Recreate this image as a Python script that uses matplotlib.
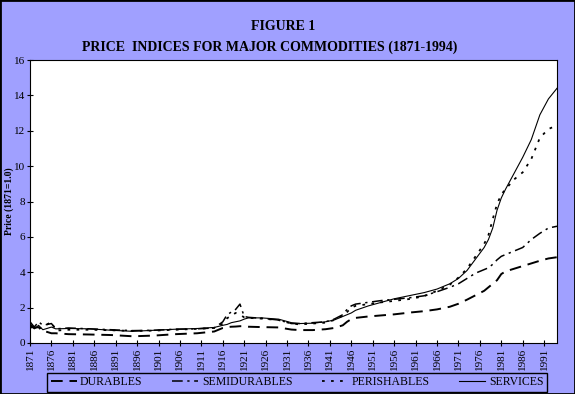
import matplotlib
matplotlib.use("Agg")
import matplotlib.pyplot as plt
from matplotlib.patches import Rectangle

plt.rcParams['font.family'] = ['Liberation Serif', 'DejaVu Serif']

# price indices, 1871 = 1.0
years = [1871, 1872, 1873, 1874, 1876, 1877, 1880, 1885, 1890, 1895, 1900, 1905,
         1910, 1914, 1916, 1917, 1918, 1919, 1920, 1921, 1922, 1925, 1929, 1932,
         1934, 1937, 1940, 1942, 1944, 1945, 1946, 1947, 1950, 1953, 1956, 1960,
         1963, 1966, 1969, 1971, 1973, 1975, 1977, 1978, 1979, 1980, 1981, 1982,
         1984, 1986, 1988, 1990, 1992, 1994]
durables = [1.0, 0.85, 0.9, 0.7, 0.55, 0.55, 0.5, 0.48, 0.45, 0.38, 0.42, 0.5,
            0.55, 0.65, 0.85, 0.9, 0.92, 0.93, 0.95, 0.95, 0.92, 0.9, 0.88, 0.76,
            0.73, 0.73, 0.78, 0.85, 1.0, 1.2, 1.35, 1.42, 1.5, 1.56, 1.62, 1.73,
            1.8, 1.9, 2.05, 2.22, 2.45, 2.7, 2.95, 3.15, 3.35, 3.55, 3.9, 4.05,
            4.2, 4.35, 4.5, 4.65, 4.78, 4.85]
semidurables = [1.2, 0.9, 1.2, 1.0, 1.1, 0.8, 0.85, 0.8, 0.75, 0.7, 0.72, 0.78,
                0.8, 0.85, 1.2, 1.6, 1.75, 1.9, 2.2, 1.5, 1.45, 1.4, 1.3, 1.1,
                1.1, 1.15, 1.2, 1.35, 1.6, 1.9, 2.1, 2.2, 2.3, 2.4, 2.47, 2.57,
                2.67, 2.9, 3.15, 3.35, 3.65, 3.95, 4.15, 4.25, 4.45, 4.7, 4.9, 5.0,
                5.2, 5.4, 5.85, 6.2, 6.5, 6.6]
perishables = [0.9, 0.85, 0.8, 0.9, 1.2, 0.7, 0.75, 0.75, 0.72, 0.68, 0.7, 0.75,
               0.8, 0.85, 1.1, 1.4, 1.55, 1.7, 1.6, 1.45, 1.42, 1.38, 1.3, 1.1,
               1.05, 1.1, 1.15, 1.3, 1.55, 1.75, 2.0, 2.1, 2.2, 2.3, 2.38, 2.5,
               2.65, 2.95, 3.3, 3.7, 4.2, 4.9, 5.6, 6.1, 7.0, 7.85, 8.4, 8.7,
               9.25, 9.65, 10.4, 11.6, 12.1, 12.3]
services = [1.1, 0.8, 1.0, 0.75, 0.9, 0.8, 0.82, 0.8, 0.72, 0.66, 0.72, 0.78,
            0.82, 0.88, 1.0, 1.05, 1.15, 1.2, 1.25, 1.35, 1.42, 1.42, 1.35, 1.15,
            1.1, 1.12, 1.2, 1.3, 1.5, 1.6, 1.7, 1.85, 2.1, 2.3, 2.5, 2.7,
            2.85, 3.05, 3.35, 3.65, 4.1, 4.75, 5.4, 5.85, 6.5, 7.5, 8.2, 8.7,
            9.6, 10.5, 11.5, 12.9, 13.8, 14.4]

tick_years = list(range(1871, 1992, 5))

bg = '#a0a0ff'
fig = plt.figure(figsize=(5.75, 3.94), dpi=100, facecolor=bg)
ax = fig.add_axes([30 / 575, 1 - 343 / 394, 527 / 575, 283 / 394])
ax.set_facecolor('white')

ax.plot(years, durables, color='black', lw=1.4, dashes=(6, 3.5), label='DURABLES')
ax.plot(years, semidurables, color='black', lw=1.1, dashes=(7, 3, 1.5, 3),
        label='SEMIDURABLES')
ax.plot(years, perishables, color='black', lw=1.3, dashes=(1.5, 3.5),
        label='PERISHABLES')
ax.plot(years, services, color='black', lw=0.8, label='SERVICES')

ax.set_xlim(1871, 1994)
ax.set_ylim(0, 16)
ax.set_yticks(range(0, 17, 2))
ax.set_xticks(tick_years)
ax.set_xticklabels([str(y) for y in tick_years], rotation=90)
ax.tick_params(direction='inout', length=5, width=0.8, labelsize=8, pad=1)
for s in ax.spines.values():
    s.set_linewidth(0.8)
ax.set_ylabel('Price (1871=1.0)', fontsize=7, fontweight='bold', labelpad=0)

fig.text(283 / 575, 1 - 26 / 394, 'FIGURE 1', ha='center', va='center',
         fontsize=10, fontweight='bold')
fig.text(270 / 575, 1 - 47 / 394, 'PRICE  INDICES FOR MAJOR COMMODITIES (1871-1994)',
         ha='center', va='center', fontsize=10, fontweight='bold')

leg = fig.legend(loc='lower left', ncol=4, mode='expand',
                 bbox_to_anchor=(47 / 575, 2 / 394, 500 / 575, 21 / 394),
                 borderaxespad=0, fontsize=8.5, frameon=True, fancybox=False,
                 handlelength=2.2, handletextpad=0.3, borderpad=0.3)
leg.get_frame().set_edgecolor('black')
leg.get_frame().set_facecolor(bg)
leg.get_frame().set_alpha(1)
leg.get_frame().set_linewidth(1.0)

fig.patches.append(Rectangle((0, 0), 1, 1, transform=fig.transFigure,
                             fill=False, edgecolor='black', lw=2))

fig.savefig('out.png', dpi=100, facecolor=bg)
